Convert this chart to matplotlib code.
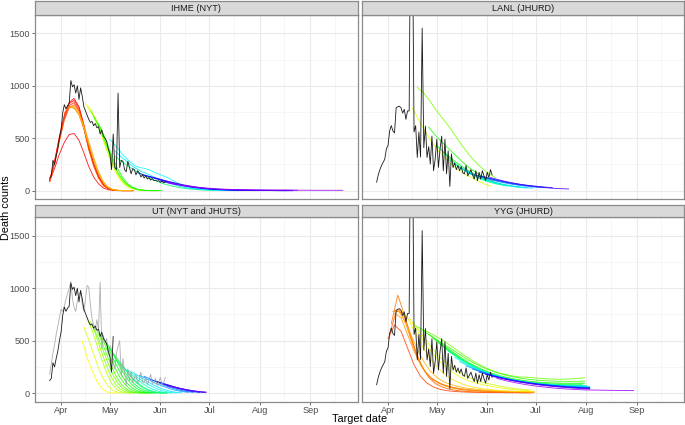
import numpy as np
import matplotlib
matplotlib.use("Agg")
import matplotlib.pyplot as plt
import matplotlib.dates as mdates
import colorsys

plt.rcParams['font.family'] = ['Liberation Sans', 'DejaVu Sans']

# ---------------- observed data ----------------
nyt_start = '2020-03-25'
nyt_deaths = [120, 140, 290, 250, 330, 400, 500, 580, 740, 820, 780, 810, 830, 1050, 990, 1010,
              930, 1000, 870, 980, 900, 800, 760, 720, 680, 650, 660, 620, 640, 600, 610, 540,
              580, 520, 500, 470, 400, 350, 200, 540, 220, 200, 930, 220, 290, 280, 200, 180,
              280, 220, 160, 210, 200, 150, 190, 170, 130, 150, 120, 140, 110, 125, 100, 115,
              95, 100, 90, 95, 80, 90, 75, 85]

jhu_start = '2020-03-25'
jhu_deaths = [80, 150, 200, 240, 270, 300, 400, 430, 570, 620, 570, 550, 790, 800, 805, 790,
              740, 775, 680, 760, 760, 3000, 2600, 560, 620, 316, 560, 320, 1550, 410, 616, 316,
              420, 253, 520, 190, 300, 490, 221, 400, 520, 190, 490, 160, 380, 40, 350, 220,
              265, 200, 240, 190, 230, 170, 160, 240, 140, 170, 200, 150, 110, 190, 95, 175,
              110, 190, 140, 95, 175, 125, 200, 150]

ut_black_days = 40  # NYT series shown in UT panel up to May 3
jhuts_start = '2020-03-25'
jhuts_deaths = [180, 280, 380, 460, 560, 640, 720, 800, 780, 830, 900, 950, 1000, 1065, 900, 820,
                780, 880, 940, 970, 850, 780, 900, 1027, 1010, 850, 710, 650, 600, 700, 600, 1059,
                423, 550, 480, 520, 360, 450, 420, 300, 230, 380, 450, 500, 160, 330, 200, 70,
                230, 120, 210, 100, 140, 180, 90, 120, 200, 110, 100, 150, 80, 120, 180, 90,
                100, 140, 70, 110, 150, 80, 100, 150]

# ---------------- forecasts ----------------
ihme_issue = ['2020-03-25', '2020-03-26', '2020-03-28', '2020-03-30', '2020-04-01', '2020-04-03',
              '2020-04-06', '2020-04-08', '2020-04-13', '2020-04-15', '2020-04-21', '2020-04-24',
              '2020-04-27', '2020-05-04', '2020-05-13', '2020-05-15', '2020-05-27', '2020-05-29',
              '2020-06-01', '2020-06-04', '2020-06-08']
ihme_start = ['2020-03-25', '2020-03-25', '2020-03-25', '2020-03-25', '2020-03-25', '2020-04-03',
              '2020-04-06', '2020-04-08', '2020-04-16', '2020-04-17', '2020-04-19', '2020-04-21',
              '2020-04-24', '2020-05-04', '2020-05-01', '2020-05-04', '2020-05-18', '2020-05-21',
              '2020-05-25', '2020-06-01', '2020-06-05']
ihme_step = [3, 3, 3, 3, 3, 3, 3, 3, 3, 3, 3, 3, 3, 4, 4, 4, 4, 4, 4, 7, 6]
ihme_values = [
    [90, 210, 350, 460, 535, 545, 480, 360, 230, 130, 65, 25, 8, 2, 0, 0, 0, 0],
    [100, 280, 520, 720, 840, 880, 800, 630, 420, 260, 140, 60, 25, 8, 2, 0, 0, 0],
    [95, 270, 500, 700, 830, 860, 790, 620, 410, 250, 130, 55, 20, 6, 1, 0, 0, 0],
    [90, 260, 490, 690, 810, 840, 770, 600, 400, 240, 125, 50, 18, 5, 1, 0, 0, 0],
    [85, 250, 470, 670, 790, 820, 760, 590, 390, 235, 120, 48, 16, 5, 0, 0, 0, 0],
    [740, 800, 790, 720, 590, 440, 290, 160, 75, 28, 8, 2, 0, 0, 0],
    [800, 800, 740, 620, 470, 320, 180, 85, 32, 10, 3, 0, 0, 0],
    [790, 760, 650, 500, 350, 210, 105, 42, 14, 4, 0, 0, 0],
    [830, 780, 690, 580, 440, 300, 190, 110, 58, 28, 12, 5, 2, 0, 0, 0],
    [800, 740, 640, 520, 390, 270, 170, 100, 52, 25, 10, 4, 1, 0, 0],
    [760, 690, 590, 470, 340, 225, 135, 75, 38, 17, 7, 2, 0, 0, 0],
    [700, 620, 510, 390, 270, 170, 100, 52, 25, 10, 4, 1, 0, 0],
    [640, 540, 420, 300, 200, 120, 65, 32, 14, 5, 2, 0, 0, 0],
    [330, 280, 235, 195, 160, 130, 100, 75, 55, 40, 28, 19, 13, 8, 5, 3, 2, 1, 0, 0],
    [487, 420, 340, 280, 230, 215, 200, 170, 145, 120, 85, 55, 33, 20, 13, 9, 6, 4, 3, 2, 1, 1, 0, 0],
    [380, 320, 270, 220, 185, 160, 130, 105, 80, 58, 40, 27, 18, 12, 8, 5, 3, 2, 1, 0],
    [170, 150, 130, 110, 92, 75, 60, 47, 36, 27, 20, 15, 11, 8, 6, 4, 3, 2, 2, 1, 1, 0, 0, 0],
    [150, 135, 118, 100, 83, 68, 54, 42, 32, 24, 18, 13, 9, 7, 5, 4, 3, 2, 1, 1, 1, 0, 0, 0],
    [135, 120, 104, 88, 73, 59, 47, 36, 27, 20, 15, 11, 8, 6, 4, 3, 2, 2, 1, 1, 0, 0, 0],
    [90, 65, 45, 30, 20, 14, 10, 8, 6, 5, 4, 4, 3],
    [80, 62, 46, 34, 25, 18, 13, 10, 8, 7, 6, 5, 5, 4, 4, 3, 3, 3, 3],
]

lanl_issue = ['2020-04-14', '2020-04-20', '2020-04-26', '2020-04-29', '2020-05-03', '2020-05-07',
              '2020-05-12', '2020-05-16', '2020-05-20', '2020-05-24', '2020-05-28', '2020-06-03']
lanl_start = ['2020-04-16', '2020-04-19', '2020-04-26', '2020-05-01', '2020-05-04', '2020-05-08',
              '2020-05-12', '2020-05-16', '2020-05-20', '2020-05-24', '2020-05-28', '2020-06-03']
lanl_step = [4] * 12
lanl_values = [
    [790, 670, 560, 460, 380, 310, 250, 200, 160, 127, 95, 65, 45],
    [985, 930, 850, 760, 680, 600, 510, 420, 340, 270, 210, 160, 125],
    [606, 530, 465, 405, 345, 285, 230, 185, 145, 115, 92],
    [430, 370, 320, 270, 225, 185, 150, 120, 95, 75, 60],
    [380, 320, 265, 215, 175, 140, 110, 88, 70, 56, 45],
    [300, 250, 210, 175, 145, 118, 95, 77, 62, 50, 40, 33],
    [260, 215, 175, 142, 115, 93, 75, 60, 48, 38, 30, 24],
    [220, 185, 152, 125, 102, 83, 67, 54, 44, 36, 29, 23],
    [170, 150, 130, 112, 96, 82, 70, 59, 50, 42, 35, 29],
    [150, 135, 118, 102, 88, 75, 64, 55, 47, 40, 34, 29],
    [140, 124, 108, 94, 81, 70, 60, 52, 45, 39, 33, 28],
    [125, 108, 92, 78, 66, 55, 46, 38, 31, 25, 21, 18, 16],
]

ut_issue = ['2020-04-12', '2020-04-14', '2020-04-17', '2020-04-19', '2020-04-21', '2020-04-23',
            '2020-04-25', '2020-04-27', '2020-04-29', '2020-05-01', '2020-05-03', '2020-05-06',
            '2020-05-09', '2020-05-12', '2020-05-15', '2020-05-19', '2020-05-22', '2020-05-26',
            '2020-05-29', '2020-06-02', '2020-06-05']
ut_start = ['2020-04-14', '2020-04-15', '2020-04-17', '2020-04-19', '2020-04-21', '2020-04-23',
            '2020-04-25', '2020-04-27', '2020-04-29', '2020-05-01', '2020-05-03', '2020-05-06',
            '2020-05-09', '2020-05-12', '2020-05-15', '2020-05-19', '2020-05-22', '2020-05-26',
            '2020-05-29', '2020-06-02', '2020-06-05']
ut_step = [3] * 21
ut_values = [
    [497, 340, 215, 115, 45, 12, 2, 0],
    [630, 510, 370, 240, 135, 65, 25, 6, 0],
    [710, 600, 460, 320, 190, 95, 38, 12, 2, 0],
    [680, 570, 430, 300, 180, 95, 42, 15, 4, 0],
    [620, 520, 400, 280, 170, 92, 43, 17, 5, 1, 0],
    [600, 490, 370, 255, 155, 85, 40, 16, 5, 1, 0],
    [560, 460, 350, 245, 155, 88, 44, 19, 7, 2, 0],
    [520, 430, 330, 235, 150, 88, 46, 21, 8, 2, 0],
    [480, 400, 310, 225, 150, 90, 49, 23, 9, 3, 0],
    [420, 350, 275, 205, 140, 88, 50, 25, 11, 4, 1, 0],
    [380, 320, 255, 192, 135, 88, 52, 28, 13, 5, 1, 0],
    [300, 250, 195, 145, 100, 64, 37, 19, 8, 3, 0],
    [250, 210, 168, 128, 92, 62, 38, 21, 10, 4, 1],
    [220, 185, 150, 117, 87, 61, 40, 24, 13, 6, 2],
    [200, 170, 140, 110, 83, 60, 41, 26, 15, 8, 3],
    [170, 148, 125, 102, 81, 62, 46, 32, 21, 13, 7],
    [160, 140, 118, 97, 77, 59, 44, 31, 21, 13, 7],
    [130, 114, 97, 80, 64, 50, 37, 27, 18, 11, 6],
    [115, 101, 87, 72, 58, 45, 34, 25, 17, 11, 6],
    [90, 78, 66, 54, 43, 33, 25, 18, 12, 8],
    [70, 60, 50, 41, 32, 25, 18, 13, 9],
]

yyg_issue = ['2020-03-31', '2020-04-02', '2020-04-03', '2020-04-04', '2020-04-05', '2020-04-07',
             '2020-04-10', '2020-04-13', '2020-04-15', '2020-04-21', '2020-04-24', '2020-04-27',
             '2020-04-29', '2020-05-02', '2020-05-05', '2020-05-08', '2020-05-12', '2020-05-15',
             '2020-05-19', '2020-05-23', '2020-05-27', '2020-05-31', '2020-06-04', '2020-06-08']
yyg_start = ['2020-04-01', '2020-04-02', '2020-04-03', '2020-04-04', '2020-04-05', '2020-04-07',
             '2020-04-10', '2020-04-14', '2020-04-16', '2020-04-18', '2020-04-22', '2020-04-26',
             '2020-04-29', '2020-05-02', '2020-05-05', '2020-05-08', '2020-05-12', '2020-05-15',
             '2020-05-19', '2020-05-23', '2020-05-27', '2020-05-31', '2020-06-04', '2020-06-07']
yyg_step = [4] * 24
yyg_values = [
    [520, 650, 590, 430, 270, 160, 95, 58, 36, 24, 17, 13, 10, 8, 7, 6, 5, 5, 4, 4, 4, 3, 3],
    [560, 780, 770, 600, 400, 250, 150, 92, 60, 40, 28, 20, 15, 12, 10, 8, 7, 6, 5, 5, 4, 4, 4],
    [661, 935, 750, 535, 345, 222, 150, 110, 80, 60, 46, 36, 29, 24, 20, 17, 15, 13, 12, 11, 10, 9, 8],
    [780, 790, 660, 470, 310, 200, 135, 95, 68, 50, 38, 30, 24, 20, 17, 15, 13, 12, 11, 10, 9, 8],
    [760, 720, 560, 400, 270, 180, 125, 92, 70, 55, 44, 36, 30, 25, 21, 18, 16, 14, 13, 12, 11, 10],
    [790, 700, 560, 420, 300, 210, 150, 110, 85, 67, 54, 44, 37, 31, 26, 22, 19, 17, 15, 14, 13, 12],
    [780, 690, 570, 450, 350, 270, 205, 155, 118, 90, 70, 55, 44, 36, 30, 25, 21, 18, 16, 14, 12],
    [720, 620, 520, 430, 350, 285, 230, 185, 148, 120, 100, 85, 72, 60, 50, 41, 34, 28, 23, 19],
    [680, 600, 510, 430, 360, 300, 250, 205, 170, 140, 118, 100, 85, 72, 60, 50, 42, 35, 29],
    [640, 610, 580, 545, 510, 470, 425, 380, 340, 300, 265, 235, 210, 190, 175, 163, 154, 152,
     147, 142, 137, 134, 132, 133, 136, 141, 148],
    [600, 560, 520, 480, 440, 400, 360, 320, 285, 255, 228, 205, 185, 168, 155, 144, 135, 128,
     122, 118, 115, 113, 112, 112, 113, 115],
    [560, 515, 470, 425, 380, 338, 298, 262, 232, 206, 184, 165, 150, 137, 126, 117, 110, 104,
     100, 97, 95, 94, 94, 95, 96],
    [520, 470, 425, 380, 336, 296, 260, 229, 202, 179, 160, 144, 130, 119, 110, 102, 96, 91, 88,
     86, 85, 85, 86, 87],
    [480, 430, 385, 340, 300, 264, 232, 204, 180, 160, 143, 129, 117, 107, 99, 92, 87, 83, 80,
     78, 77, 77, 78],
    [440, 395, 352, 312, 276, 244, 215, 190, 168, 150, 134, 121, 110, 101, 93, 87, 82, 78, 75,
     73, 72, 72, 73],
    [400, 358, 318, 282, 250, 221, 196, 174, 155, 139, 125, 113, 103, 95, 88, 82, 77, 73, 70,
     68, 67, 67],
    [340, 305, 272, 243, 217, 194, 174, 156, 141, 128, 116, 106, 98, 91, 85, 80, 76, 73, 71, 70, 70],
    [300, 270, 243, 218, 196, 176, 158, 143, 129, 117, 107, 98, 90, 84, 78, 74, 70, 67, 65, 64, 64],
    [260, 236, 213, 192, 173, 156, 141, 128, 116, 106, 97, 89, 82, 76, 71, 67, 63, 60, 58, 57],
    [230, 209, 189, 171, 155, 140, 127, 115, 105, 96, 88, 81, 75, 70, 65, 61, 58, 55, 53],
    [200, 183, 166, 151, 137, 124, 113, 103, 94, 86, 79, 73, 67, 62, 58, 54, 51, 48],
    [180, 164, 149, 135, 122, 110, 100, 91, 83, 76, 69, 63, 58, 54, 50, 47, 44],
    [160, 146, 133, 120, 108, 98, 88, 80, 72, 66, 60, 55, 50, 46, 42, 39],
    [140, 124, 110, 97, 86, 76, 67, 60, 53, 47, 42, 38, 35, 32, 30, 29, 28, 27, 26, 25, 25, 24],
]

panel_titles = ['IHME (NYT)', 'LANL (JHURD)', 'UT (NYT and JHUTS)', 'YYG (JHURD)']
y_ticks = [0, 500, 1000, 1500]
y_minor = [250, 750, 1250]

# ---------------- helpers ----------------
W, H = 685, 425
fig = plt.figure(figsize=(W / 100, H / 100), dpi=100)

HUE_REF = np.datetime64('2020-03-27')
HUE_SPAN = 73.0


def issue_color(issue):
    d = (np.datetime64(issue) - HUE_REF).astype(int)
    h = min(max(d / HUE_SPAN, 0.0), 1.0) * 0.77
    return colorsys.hsv_to_rgb(h, 1.0, 1.0)


def day_axis(start, n, step=1):
    return np.datetime64(start) + np.arange(n) * np.timedelta64(step, 'D')


def px_axes(x0, y0, x1, y1):
    return fig.add_axes([x0 / W, 1 - y1 / H, (x1 - x0) / W, (y1 - y0) / H])


XLIM = (np.datetime64('2020-03-16'), np.datetime64('2020-09-30'))
month_starts = [np.datetime64('2020-%02d-01' % m) for m in range(3, 11)]
month_mid = [month_starts[i] + (month_starts[i + 1] - month_starts[i]) / 2
             for i in range(len(month_starts) - 1)]

BORDER = '#8a8a8a'


def style_panel(ax, show_x, show_y):
    ax.set_xlim(*XLIM)
    ax.set_ylim(-80, 1680)
    ax.set_yticks(y_ticks)
    ax.set_yticks(y_minor, minor=True)
    ax.set_xticks(month_starts[1:7])
    ax.set_xticks(month_mid, minor=True)
    ax.xaxis.set_major_formatter(mdates.DateFormatter('%b'))
    ax.grid(which='major', color='#EBEBEB', lw=0.8)
    ax.grid(which='minor', color='#F2F2F2', lw=0.45)
    ax.set_axisbelow(True)
    for s in ax.spines.values():
        s.set_color(BORDER)
        s.set_linewidth(0.9)
    ax.tick_params(which='minor', length=0)
    ax.tick_params(which='major', length=2.2, width=0.6, color='#555555',
                   labelsize=6.6, labelcolor='#4D4D4D', pad=1.3)
    if not show_x:
        ax.tick_params(axis='x', which='major', length=0, labelbottom=False)
    if not show_y:
        ax.tick_params(axis='y', which='major', length=0, labelleft=False)


def strip(x0, y0, x1, y1, title):
    s = px_axes(x0, y0, x1, y1)
    s.set_facecolor('#D9D9D9')
    s.set_xticks([])
    s.set_yticks([])
    for sp in s.spines.values():
        sp.set_color(BORDER)
        sp.set_linewidth(0.9)
    s.text(0.5, 0.47, title, ha='center', va='center', fontsize=6.6, color='#1A1A1A',
           transform=s.transAxes)


def draw_forecasts(ax, issues, starts, steps, values):
    for iss, st, stp, vals in zip(issues, starts, steps, values):
        ax.plot(day_axis(st, len(vals), stp), vals, color=issue_color(iss), lw=0.65, alpha=0.85)


# panel geometry (pixels)
LX0, LX1 = 35, 357.5
RX0, RX1 = 362, 684
TY0, TY1 = 14.5, 199
BY0, BY1 = 217, 401.5

ax_ihme = px_axes(LX0, TY0, LX1, TY1)
ax_lanl = px_axes(RX0, TY0, RX1, TY1)
ax_ut = px_axes(LX0, BY0, LX1, BY1)
ax_yyg = px_axes(RX0, BY0, RX1, BY1)

style_panel(ax_ihme, False, True)
style_panel(ax_lanl, False, False)
style_panel(ax_ut, True, True)
style_panel(ax_yyg, True, False)

strip(LX0, 0.8, LX1, TY0, panel_titles[0])
strip(RX0, 0.8, RX1, TY0, panel_titles[1])
strip(LX0, 204.5, LX1, BY0, panel_titles[2])
strip(RX0, 204.5, RX1, BY0, panel_titles[3])

draw_forecasts(ax_ihme, ihme_issue, ihme_start, ihme_step, ihme_values)
draw_forecasts(ax_lanl, lanl_issue, lanl_start, lanl_step, lanl_values)
draw_forecasts(ax_ut, ut_issue, ut_start, ut_step, ut_values)
draw_forecasts(ax_yyg, yyg_issue, yyg_start, yyg_step, yyg_values)

nyt_dates = day_axis(nyt_start, len(nyt_deaths))
jhu_dates = day_axis(jhu_start, len(jhu_deaths))
jhuts_dates = day_axis(jhuts_start, len(jhuts_deaths))

OBS = '#1a1a1a'
ax_ihme.plot(nyt_dates, nyt_deaths, color=OBS, lw=0.6)
ax_lanl.plot(jhu_dates, jhu_deaths, color=OBS, lw=0.6)
ax_yyg.plot(jhu_dates, jhu_deaths, color=OBS, lw=0.6)
ax_ut.plot(jhuts_dates, jhuts_deaths, color='#a0a0a0', lw=0.6, alpha=0.85)
ax_ut.plot(nyt_dates[:ut_black_days], nyt_deaths[:ut_black_days], color=OBS, lw=0.6)

fig.text((LX0 + RX1) / 2 / W, 1 - 418.5 / H, 'Target date', ha='center', va='center',
         fontsize=7.8, color='black')
fig.text(6 / W, 1 - (TY0 + BY1) / 2 / H, 'Death counts', ha='center', va='center',
         rotation=90, fontsize=7.8, color='black')

fig.savefig('out.png', dpi=100)
